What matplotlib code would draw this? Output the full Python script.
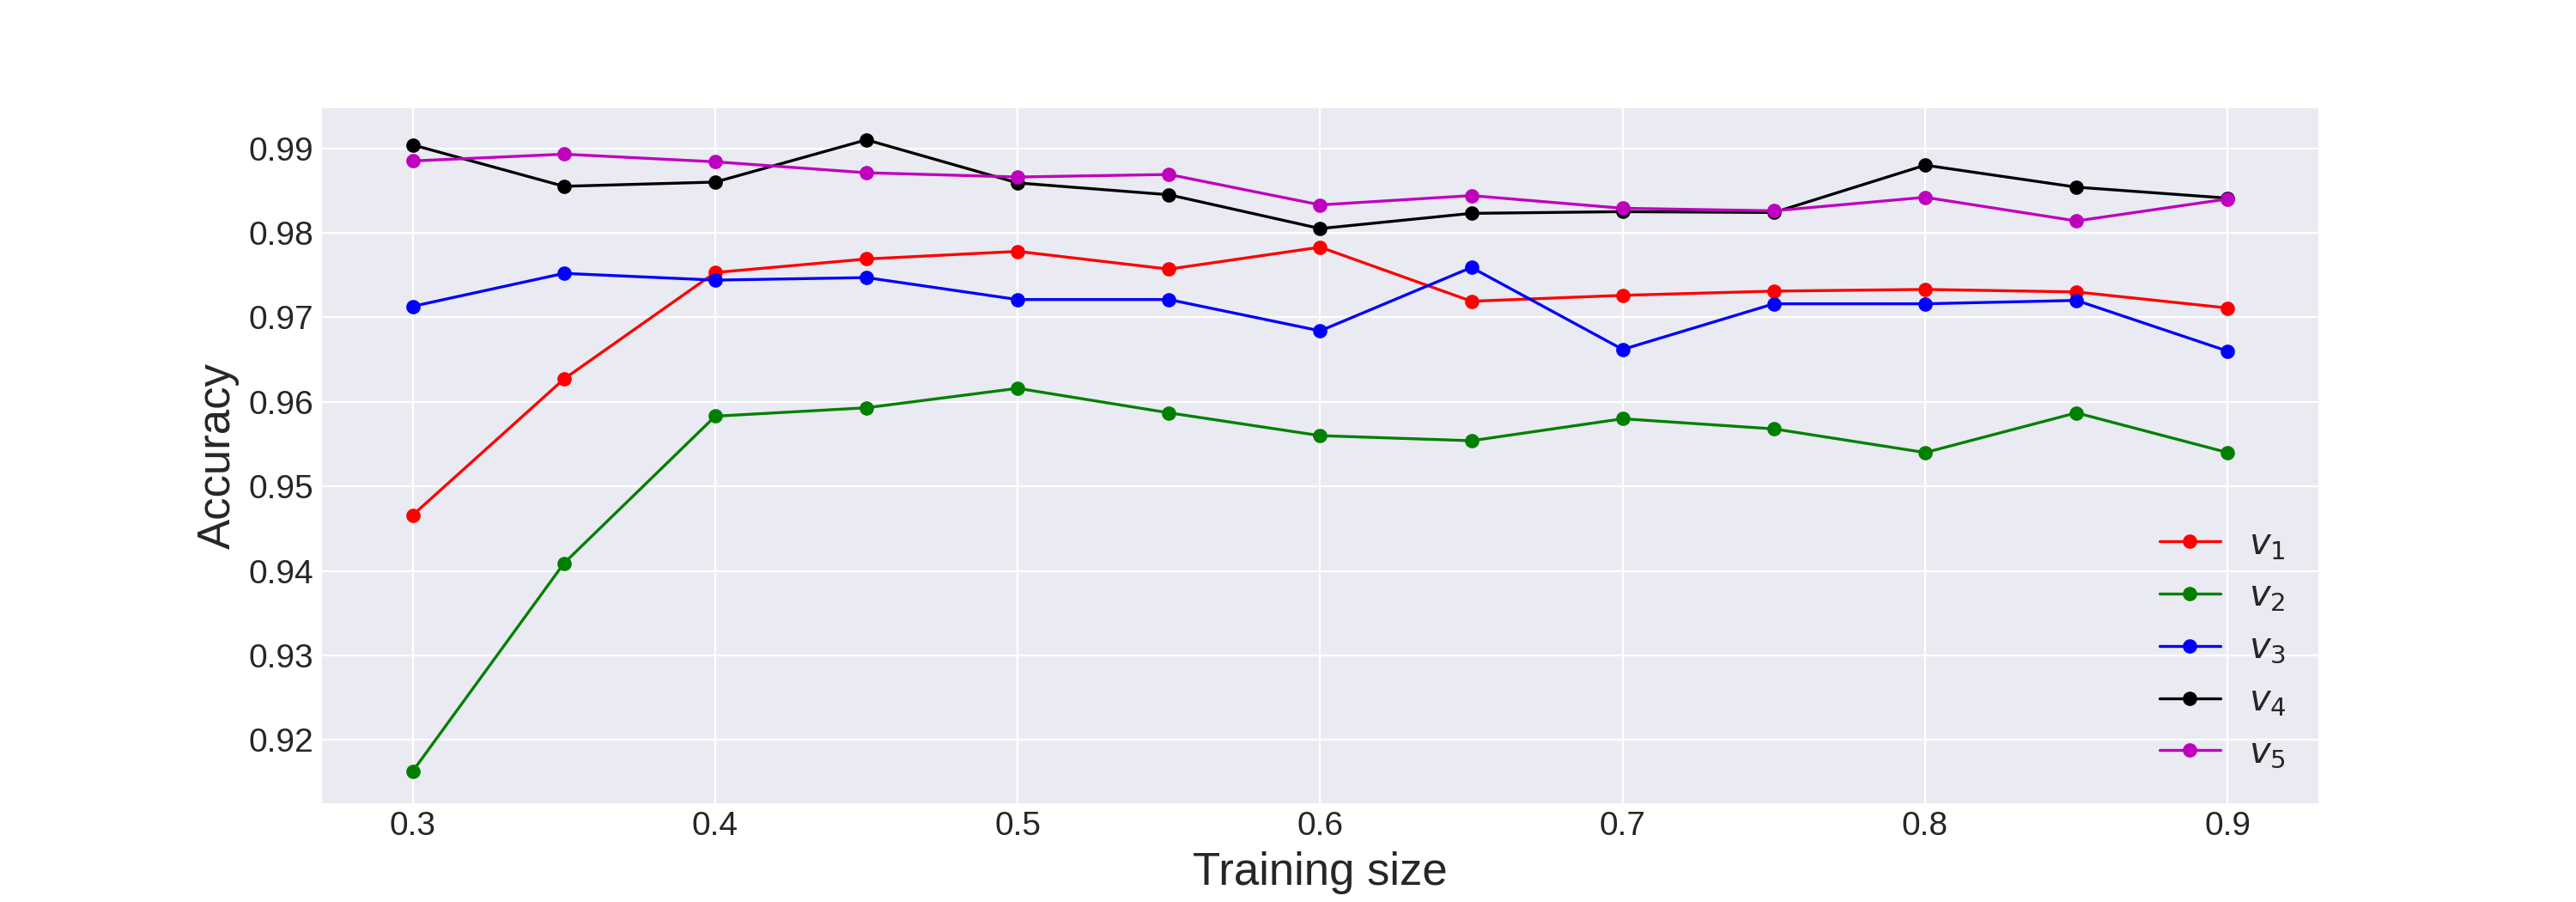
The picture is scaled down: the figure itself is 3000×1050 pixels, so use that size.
import matplotlib
matplotlib.use('Agg')
from matplotlib import pyplot as plt

# Training sizes and accuracy for the five variants
sizes = [0.3, 0.35, 0.4, 0.45, 0.5, 0.55, 0.6, 0.65, 0.7, 0.75, 0.8, 0.85, 0.9]
v1 = [0.9466, 0.9627, 0.9753, 0.9769, 0.9778, 0.9757, 0.9783, 0.9719, 0.9726, 0.9731, 0.9733, 0.9730, 0.9711]
v2 = [0.9163, 0.9409, 0.9583, 0.9593, 0.9616, 0.9587, 0.9560, 0.9554, 0.9580, 0.9568, 0.9540, 0.9587, 0.9540]
v3 = [0.9713, 0.9752, 0.9744, 0.9747, 0.9721, 0.9721, 0.9684, 0.9759, 0.9662, 0.9716, 0.9716, 0.9720, 0.9660]
v4 = [0.9904, 0.9855, 0.9860, 0.9910, 0.9859, 0.9845, 0.9805, 0.9823, 0.9825, 0.9824, 0.9880, 0.9854, 0.9841]
v5 = [0.9885, 0.9893, 0.9884, 0.9871, 0.9866, 0.9869, 0.9833, 0.9844, 0.9829, 0.9826, 0.9842, 0.9814, 0.9840]

series = [(v1, 'r', '$v_1$'), (v2, 'g', '$v_2$'), (v3, 'b', '$v_3$'),
          (v4, 'k', '$v_4$'), (v5, 'm', '$v_5$')]

plt.style.use('seaborn-v0_8-darkgrid')
narrow = ['Liberation Sans Narrow', 'Liberation Sans', 'DejaVu Sans']

fig, ax = plt.subplots(figsize=(15, 5.25), dpi=200)
for vals, color, label in series:
    ax.plot(sizes, vals, color=color, marker='o', markersize=5, linewidth=1.2, label=label)

ax.set_xlabel('Training size', fontsize=19, family=narrow, color='#262626')
ax.set_ylabel('Accuracy', fontsize=19, family=narrow, color='#262626')
ax.set_xticks([0.3, 0.4, 0.5, 0.6, 0.7, 0.8, 0.9])
ax.set_yticks([0.92, 0.93, 0.94, 0.95, 0.96, 0.97, 0.98, 0.99])
for t in ax.get_xticklabels() + ax.get_yticklabels():
    t.set_family(narrow)
    t.set_fontsize(14)
    t.set_color('#262626')

ax.legend(loc='lower right', fontsize=15, frameon=False, handlelength=1.7)

fig.savefig('out.png')
